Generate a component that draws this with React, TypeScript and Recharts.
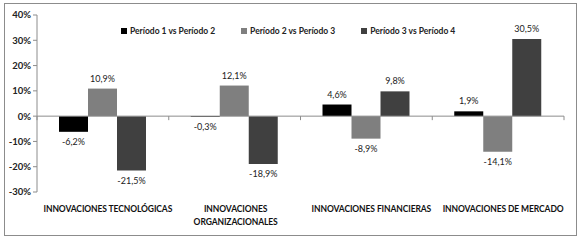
import { Bar, BarChart, LabelList, Legend, ReferenceLine, XAxis, YAxis } from "recharts";

// categories and the three period comparisons (percent)
const categories = [
  "INNOVACIONES TECNOLÓGICAS",
  "INNOVACIONES ORGANIZACIONALES",
  "INNOVACIONES FINANCIERAS",
  "INNOVACIONES DE MERCADO",
];
const p1vs2 = [-6.2, -0.3, 4.6, 1.9];
const p2vs3 = [10.9, 12.1, -8.9, -14.1];
const p3vs4 = [-21.5, -18.9, 9.8, 30.5];
const seriesNames = ["Período 1 vs Período 2", "Período 2 vs Período 3", "Período 3 vs Período 4"];
const yTicks = [-30, -20, -10, 0, 10, 20, 30, 40];

const data = categories.map((name, i) => ({
  name,
  a: p1vs2[i],
  b: p2vs3[i],
  c: p3vs4[i],
}));

const FONT = "Lato, 'Open Sans', sans-serif";
const AXIS = "#8c8c8c";

const pct = (v: any) => Number(v).toFixed(1).replace(".", ",") + "%";

// long labels go on two lines, like Excel did (single ones sit a bit to the right)
const CatTick = (props: any) => {
  const { x, y, payload } = props;
  const s: string = payload.value;
  const wrap = s.length > 26;
  const lines = wrap ? [s.slice(0, s.indexOf(" ")), s.slice(s.indexOf(" ") + 1)] : [s];
  const cx = wrap ? x + 1 : x + 5;
  return (
    <text
      x={cx}
      y={y + 2}
      textAnchor="middle"
      fill="#111"
      style={{ fontSize: 8.5, fontWeight: 700, fontFamily: FONT, letterSpacing: -0.1 }}
    >
      {lines.map((l, i) => (
        <tspan key={i} x={cx} dy={i === 0 ? "0.71em" : 13}>
          {l}
        </tspan>
      ))}
    </text>
  );
};

// zero line with Excel-like tick marks between categories
const ZeroLine = (props: any) => {
  const { x1, y1, x2, y2 } = props;
  const n = categories.length;
  const step = (x2 - x1) / n;
  return (
    <g>
      <line x1={x1} y1={y1} x2={x2} y2={y2} stroke={AXIS} strokeWidth={1} />
      {Array.from({ length: n + 1 }, (_, i) => (
        <line key={i} x1={x1 + i * step} x2={x1 + i * step} y1={y1} y2={y1 + 4} stroke={AXIS} />
      ))}
    </g>
  );
};

const LegendBox = (props: any) => {
  const items = props.payload || [];
  return (
    <div style={{ display: "flex", gap: 26, fontFamily: FONT, fontSize: 8.5, fontWeight: 700, color: "#222", whiteSpace: "nowrap" }}>
      {items.map((it: any) => (
        <span key={it.value} style={{ display: "flex", alignItems: "center" }}>
          <span style={{ width: 6, height: 6, background: it.color, display: "inline-block", marginRight: 3 }} />
          {it.value}
        </span>
      ))}
    </div>
  );
};

const labelStyle = { fontSize: 9, fontFamily: FONT, fill: "#222" };

export default function App() {
  return (
    <div style={{ position: "fixed", left: 0, top: 0, width: 580, height: 241, background: "#fff" }}>
      <div
        style={{
          position: "absolute",
          left: 4,
          top: 3,
          width: 573,
          height: 233,
          border: "1px solid #8c8c8c",
          boxSizing: "border-box",
        }}
      />
      <div style={{ position: "absolute", left: 0, top: 0 }}>
        <BarChart
          width={580}
          height={241}
          data={data}
          margin={{ top: 15, right: 16, bottom: 0, left: 0 }}
          barGap={0}
          barSize={29}
        >
          <XAxis
            dataKey="name"
            axisLine={false}
            tickLine={false}
            tickSize={6}
            tickMargin={6}
            height={49}
            interval={0}
            tick={<CatTick />}
          />
          <YAxis
            domain={[-30, 40]}
            ticks={yTicks}
            width={37}
            tickSize={4}
            tickMargin={2}
            stroke={AXIS}
            tickFormatter={(v) => `${v}%`}
            tick={{ fontSize: 9.5, fontWeight: 700, fill: "#222", fontFamily: FONT }}
          />
          <Legend
            layout="vertical"
            verticalAlign="middle"
            align="center"
            content={<LegendBox />}
            wrapperStyle={{ position: "absolute", top: 26, left: 121, width: "auto" }}
          />
          <Bar dataKey="a" name={seriesNames[0]} fill="#000000" isAnimationActive={false}>
            <LabelList dataKey="a" position="top" offset={7} formatter={pct} style={labelStyle} />
          </Bar>
          <Bar dataKey="b" name={seriesNames[1]} fill="#7f7f7f" isAnimationActive={false}>
            <LabelList dataKey="b" position="top" offset={7} formatter={pct} style={labelStyle} />
          </Bar>
          <Bar dataKey="c" name={seriesNames[2]} fill="#404040" isAnimationActive={false}>
            <LabelList dataKey="c" position="top" offset={7} formatter={pct} style={labelStyle} />
          </Bar>
          <ReferenceLine y={0} shape={<ZeroLine />} />
        </BarChart>
      </div>
    </div>
  );
}
